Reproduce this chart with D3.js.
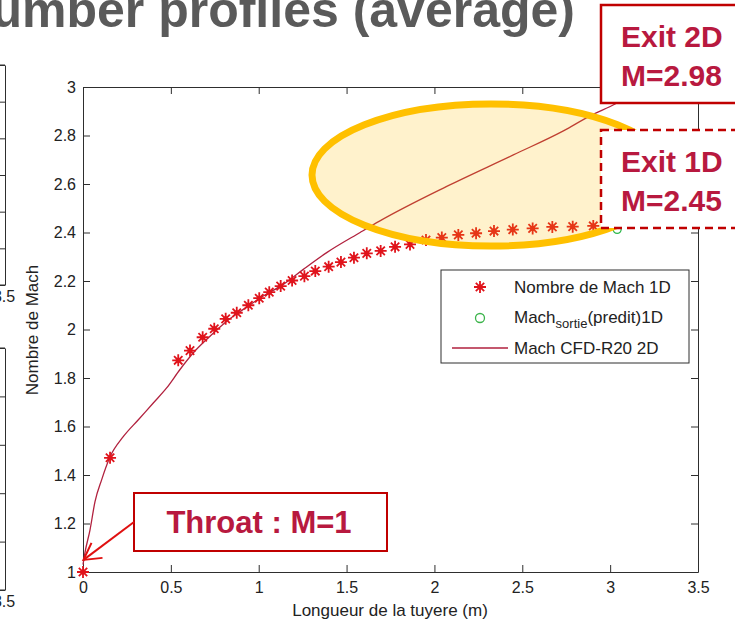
<!DOCTYPE html>
<html><head><meta charset="utf-8">
<script src="https://cdn.jsdelivr.net/npm/d3@7"></script>
<style>
html,body{margin:0;padding:0;background:#fff;overflow:hidden;}
svg{display:block;font-family:"Liberation Sans",Arial,Helvetica,sans-serif;}
</style></head><body>
<svg id="chart" width="735" height="621"></svg>
<script>
// 1D model: Mach number along the nozzle (x in metres)
const mach1dX = [0, 0.154, 0.542, 0.609, 0.681, 0.747, 0.812, 0.875, 0.941, 1.003, 1.060, 1.125, 1.190, 1.260, 1.322, 1.398, 1.468, 1.542, 1.615, 1.694, 1.776, 1.861, 1.952, 2.042, 2.136, 2.237, 2.339, 2.446, 2.559, 2.671, 2.787, 2.904, 3.03];
const mach1dM = [1.00, 1.471, 1.873, 1.913, 1.968, 2.003, 2.044, 2.069, 2.100, 2.129, 2.154, 2.179, 2.202, 2.220, 2.241, 2.259, 2.278, 2.296, 2.314, 2.324, 2.341, 2.351, 2.369, 2.379, 2.390, 2.397, 2.406, 2.412, 2.417, 2.423, 2.424, 2.427, 2.45];

// predicted exit Mach number (1D)
const exitPredX = [3.04];
const exitPredM = [2.413];

// 2D CFD (R20) averaged Mach profile
const cfdX = [0, 0.011, 0.040, 0.068, 0.106, 0.154, 0.229, 0.315, 0.400, 0.476, 0.552, 0.628, 0.723, 0.818, 0.912, 1.026, 1.140, 1.254, 1.387, 1.577, 1.690, 2.070, 2.449, 2.734, 2.886, 3.028, 3.15];
const cfdM = [1.03, 1.079, 1.174, 1.289, 1.380, 1.475, 1.558, 1.628, 1.697, 1.759, 1.835, 1.904, 1.972, 2.034, 2.083, 2.138, 2.186, 2.248, 2.317, 2.400, 2.448, 2.590, 2.720, 2.819, 2.881, 2.930, 2.98];

const xTicks = [0, 0.5, 1, 1.5, 2, 2.5, 3, 3.5];
const yTicks = [1, 1.2, 1.4, 1.6, 1.8, 2, 2.2, 2.4, 2.6, 2.8, 3];
const xTickLabels = ["0", "0.5", "1", "1.5", "2", "2.5", "3", "3.5"];
const yTickLabels = ["1", "1.2", "1.4", "1.6", "1.8", "2", "2.2", "2.4", "2.6", "2.8", "3"];

// neighbouring subplots (only their right edges show)
const sideTopTicks = [0, 1, 2, 3, 4, 5, 6];
const sideBottomTicks = [0, 1, 2, 3, 4, 5];

const legendLabels = ["Nombre de Mach 1D", "Mach", "Mach CFD-R20 2D"];
const titleText = "number profiles (average)";
const exit2dText = ["Exit 2D", "M=2.98"];
const exit1dText = ["Exit 1D", "M=2.45"];
const throatText = "Throat : M=1";

const svg = d3.select("#chart");
const axisColor = "#2e2e2e";
const starColor = "#e0141c";
const lineColor = "#b1213e";
const calloutText = "#b8193f";
const calloutBorder = "#c00000";

const x = d3.scaleLinear().domain([0, 3.5]).range([83, 698]);
const y = d3.scaleLinear().domain([1, 3]).range([572, 87]);

// title
svg.append("text")
  .attr("x", 575).attr("y", 27)
  .attr("text-anchor", "end")
  .attr("font-size", 50).attr("font-weight", "bold")
  .attr("fill", "#5a5a5a")
  .text(titleText);

// side subplots
const sideTop = d3.scaleLinear().domain([0, 6]).range([285, 65]);
const sideBot = d3.scaleLinear().domain([0, 5]).range([590, 348]);
function sidePanel(scale, ticks) {
  const g = svg.append("g").attr("transform", "translate(5,0)");
  g.call(d3.axisRight(scale).tickValues(ticks).tickSize(-6).tickSizeOuter(0).tickFormat(""));
  g.selectAll("path,line").attr("stroke", axisColor);
  const [y0, y1] = scale.range();
  svg.append("line").attr("x1", 0).attr("x2", 5).attr("y1", y0).attr("y2", y0).attr("stroke", axisColor);
  svg.append("line").attr("x1", 0).attr("x2", 5).attr("y1", y1).attr("y2", y1).attr("stroke", axisColor);
  svg.append("text").attr("x", 4).attr("y", y0 + 17).attr("text-anchor", "middle")
    .attr("font-size", 16).attr("fill", "#222").text("3.5");
}
sidePanel(sideTop, sideTopTicks);
sidePanel(sideBot, sideBottomTicks);

// axes
const gx = svg.append("g").attr("transform", "translate(0,572)")
  .call(d3.axisBottom(x).tickValues(xTicks).tickSize(-7).tickSizeOuter(0).tickPadding(10)
    .tickFormat((d, i) => xTickLabels[i]));
const gy = svg.append("g").attr("transform", "translate(83,0)")
  .call(d3.axisLeft(y).tickValues(yTicks).tickSize(-7).tickSizeOuter(0).tickPadding(7)
    .tickFormat((d, i) => yTickLabels[i]));
const gt = svg.append("g").attr("transform", "translate(0,87)")
  .call(d3.axisTop(x).tickValues(xTicks).tickSize(-7).tickSizeOuter(0).tickFormat(""));
const gr = svg.append("g").attr("transform", "translate(698,0)")
  .call(d3.axisRight(y).tickValues(yTicks).tickSize(-7).tickSizeOuter(0).tickFormat(""));
[gx, gy, gt, gr].forEach(g => {
  g.selectAll("path,line").attr("stroke", axisColor).attr("stroke-width", 1);
  g.selectAll("text").attr("font-size", 16).attr("fill", "#222")
    .attr("font-family", "'Liberation Sans',Arial,sans-serif");
});

svg.append("text")
  .attr("x", 390).attr("y", 616).attr("text-anchor", "middle")
  .attr("font-size", 17).attr("fill", "#222")
  .text("Longueur de la tuyere (m)");
svg.append("text")
  .attr("transform", "translate(38,330) rotate(-90)")
  .attr("text-anchor", "middle")
  .attr("font-size", 17).attr("fill", "#222")
  .text("Nombre de Mach");

// CFD line
const cfd = cfdX.map((d, i) => [d, cfdM[i]]);
svg.append("path")
  .datum(cfd)
  .attr("d", d3.line().x(d => x(d[0])).y(d => y(d[1])).curve(d3.curveMonotoneX))
  .attr("fill", "none").attr("stroke", lineColor).attr("stroke-width", 1.3);

// 1D stars
const starPath = "M-6,0H6M0,-6V6M-4.2,-4.2L4.2,4.2M-4.2,4.2L4.2,-4.2";
function star(g) {
  g.append("path").attr("d", starPath).attr("stroke", starColor).attr("stroke-width", 1.8).attr("fill", "none");
  g.append("circle").attr("r", 2.5).attr("fill", starColor);
}
const stars = mach1dX.map((d, i) => [d, mach1dM[i]]);
svg.append("g").selectAll("g").data(stars).join("g")
  .attr("transform", d => `translate(${x(d[0])},${y(d[1])})`)
  .each(function () { star(d3.select(this)); });

// predicted exit
svg.append("g").selectAll("circle").data(exitPredX.map((d, i) => [d, exitPredM[i]])).join("circle")
  .attr("cx", d => x(d[0])).attr("cy", d => y(d[1])).attr("r", 4)
  .attr("fill", "none").attr("stroke", "#2db84b").attr("stroke-width", 1.3);

// legend
const lg = svg.append("g");
lg.append("rect").attr("x", 441).attr("y", 270).attr("width", 248).attr("height", 93)
  .attr("fill", "#fff").attr("stroke", axisColor).attr("stroke-width", 1);
const s1 = lg.append("g").attr("transform", "translate(480,287)");
star(s1);
lg.append("circle").attr("cx", 480).attr("cy", 318).attr("r", 4.5)
  .attr("fill", "none").attr("stroke", "#3cb44b").attr("stroke-width", 1.3);
lg.append("line").attr("x1", 452).attr("x2", 508).attr("y1", 348).attr("y2", 348)
  .attr("stroke", lineColor).attr("stroke-width", 1.3);
lg.append("text").attr("x", 514).attr("y", 293).attr("font-size", 17).attr("fill", "#222").text(legendLabels[0]);
const t2 = lg.append("text").attr("x", 514).attr("y", 323).attr("font-size", 17).attr("fill", "#222");
t2.append("tspan").text(legendLabels[1]);
t2.append("tspan").attr("font-size", 13).attr("dy", 5).text("sortie");
t2.append("tspan").attr("dy", -5).text("(predit)1D");
lg.append("text").attr("x", 514).attr("y", 354).attr("font-size", 17).attr("fill", "#222").text(legendLabels[2]);

// highlight ellipse over the exit region (light translucent fill)
svg.append("ellipse")
  .attr("cx", 491).attr("cy", 175).attr("rx", 179).attr("ry", 71)
  .attr("fill", "#ffc000").attr("fill-opacity", 0.2)
  .attr("stroke", "#ffc000").attr("stroke-width", 7);

// callout boxes
function callout(x0, y0, w, h, lines, dashed) {
  const g = svg.append("g");
  g.append("rect").attr("x", x0).attr("y", y0).attr("width", w).attr("height", h)
    .attr("fill", "#fff").attr("stroke", calloutBorder).attr("stroke-width", 2.5)
    .attr("stroke-dasharray", dashed ? "8,5" : null);
  lines.forEach((t, i) => {
    g.append("text").attr("x", x0 + 20).attr("y", y0 + 42 + i * 39)
      .attr("font-size", 30).attr("font-weight", "bold").attr("fill", calloutText).text(t);
  });
}
callout(601, 5, 150, 98, exit2dText, false);
callout(601, 130, 150, 98, exit1dText, true);

// throat callout
const tb = svg.append("g");
tb.append("rect").attr("x", 134).attr("y", 493).attr("width", 253).attr("height", 58)
  .attr("fill", "#fff").attr("stroke", calloutBorder).attr("stroke-width", 2);
tb.append("text").attr("x", 259).attr("y", 533).attr("text-anchor", "middle")
  .attr("font-size", 31).attr("font-weight", "bold").attr("fill", calloutText).text(throatText);
const tip = [x(0) + 0.5, y(1.05)];
tb.append("line").attr("x1", 134).attr("y1", 522).attr("x2", tip[0]).attr("y2", tip[1])
  .attr("stroke", "#e01010").attr("stroke-width", 2);
tb.append("path")
  .attr("d", `M${tip[0] + 8},${tip[1] - 17}L${tip[0]},${tip[1]}L${tip[0] + 19},${tip[1] - 2}`)
  .attr("fill", "none").attr("stroke", "#e01010").attr("stroke-width", 2);
</script>
</body></html>
